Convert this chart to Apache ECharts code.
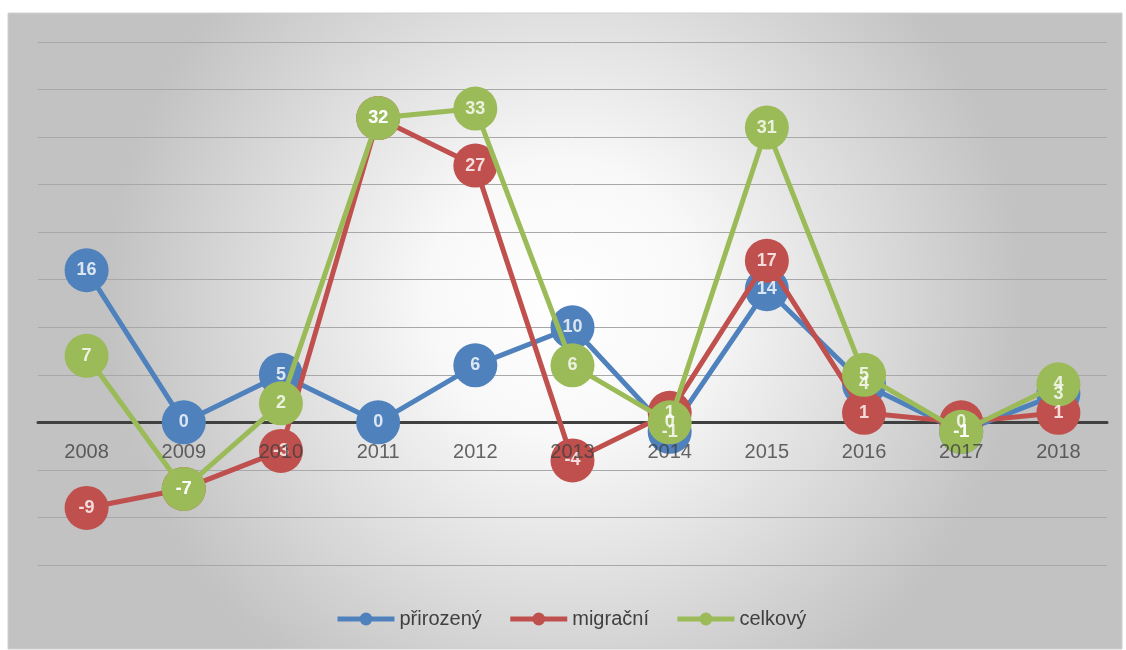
<!DOCTYPE html>
<html><head><meta charset="utf-8">
<script src="https://cdn.jsdelivr.net/npm/echarts@6/dist/echarts.min.js"></script>
<style>html,body{margin:0;padding:0;background:#fff}#c{width:1126px;height:650px}</style>
</head><body><div id="c"></div>
<script>
const years = ['2008','2009','2010','2011','2012','2013','2014','2015','2016','2017','2018'];
const prirozeny = [16, 0, 5, 0, 6, 10, -1, 14, 4, -1, 3];
const migracni = [-9, -7, -3, 32, 27, -4, 1, 17, 1, 0, 1];
const celkovy = [7, -7, 2, 32, 33, 6, 0, 31, 5, -1, 4];
const names = ['přirozený', 'migrační', 'celkový'];
const colors = ['#4F81BD', '#C0504D', '#9BBB59'];
const datasets = [prirozeny, migracni, celkovy];

const chart = echarts.init(document.getElementById('c'));
const font = 'Liberation Sans, Arial, sans-serif';
const series = [];
datasets.forEach((d, i) => {
  series.push({
    name: names[i], type: 'line', data: d, z: 2 + i,
    symbol: 'circle', symbolSize: 44,
    lineStyle: { width: 5, color: colors[i] },
    itemStyle: { color: colors[i] },
    label: { show: false },
    emphasis: { disabled: true },
    animation: false
  });
});
datasets.forEach((d, i) => {
  series.push({
    name: names[i] + '_lbl', type: 'scatter', data: d, z: 10,
    symbolSize: 1, itemStyle: { color: 'rgba(0,0,0,0)' },
    label: { show: true, position: 'inside', color: '#fff', fontWeight: 'bold', fontSize: 18, fontFamily: font },
    emphasis: { disabled: true },
    animation: false
  });
});
// year labels sitting on the zero axis line, drawn above the markers
series.push({
  name: 'years', type: 'scatter', data: years.map(() => 0), z: 11,
  symbolSize: 1, itemStyle: { color: 'rgba(0,0,0,0)' },
  label: { show: true, position: 'bottom', distance: 20, formatter: '{b}', color: '#404040', fontSize: 20, fontFamily: font },
  emphasis: { disabled: true }, animation: false
});

chart.setOption({
  animation: false,
  graphic: [{
    type: 'rect', z: -10, silent: true,
    shape: { x: 8, y: 13, width: 1114, height: 636 },
    style: {
      fill: { type: 'radial', x: 0.5, y: 0.45, r: 0.72,
        colorStops: [{ offset: 0, color: '#ffffff' }, { offset: 0.3, color: '#f8f8f8' }, { offset: 1, color: '#c2c2c2' }] },
      stroke: '#d0d0d0', lineWidth: 1
    }
  }],
  grid: { left: 38, right: 19, top: 42, bottom: 85, containLabel: false },
  legend: {
    data: names, left: 330, top: 604,
    itemWidth: 57, itemHeight: 16, itemGap: 26,
    lineStyle: { width: 5 },
    textStyle: { fontSize: 20, color: '#404040', fontFamily: font }
  },
  xAxis: {
    type: 'category', data: years, boundaryGap: true,
    axisLine: { onZero: true, lineStyle: { color: '#404040', width: 3 } },
    axisTick: { show: false },
    axisLabel: { show: false },
    z: 1
  },
  yAxis: {
    type: 'value', min: -15, max: 40, interval: 5,
    axisLabel: { show: false }, axisLine: { show: false }, axisTick: { show: false },
    splitLine: { lineStyle: { color: '#a8a8a8', width: 1 } }
  },
  series: series
});
</script></body></html>
